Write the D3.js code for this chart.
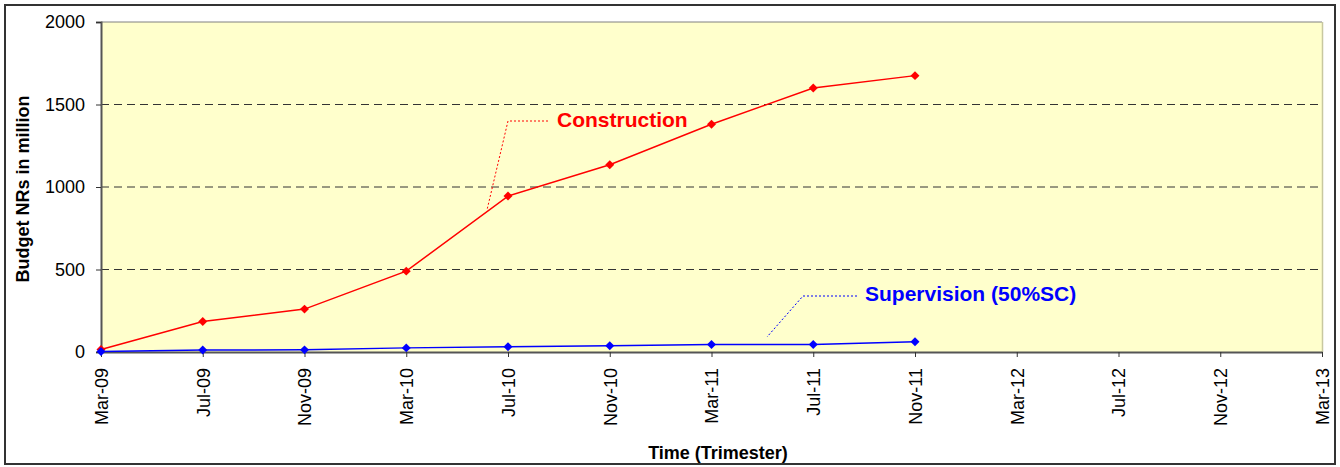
<!DOCTYPE html>
<html><head><meta charset="utf-8">
<script src="https://cdn.jsdelivr.net/npm/d3@7"></script>
<style>body{margin:0;background:#fff;} text{font-family:"Liberation Sans",Arial,sans-serif;}</style>
</head><body>
<svg id="c" width="1340" height="467"></svg>
<script>
const categories = ["Mar-09","Jul-09","Nov-09","Mar-10","Jul-10","Nov-10","Mar-11","Jul-11","Nov-11","Mar-12","Jul-12","Nov-12","Mar-13"];
const construction = [15,185,260,490,945,1135,1380,1600,1675];
const supervision = [3,12,13,25,32,38,46,46,62];
const yTicks = [0,500,1000,1500,2000];
const seriesNames = ["Construction","Supervision (50%SC)"];

const svg = d3.select("#c");
const m = {l:101, r:1322, t:22, b:352};
// outer frame
svg.append("rect").attr("x",5).attr("y",5).attr("width",1330).attr("height",459)
  .attr("fill","#fff").attr("stroke","#333").attr("stroke-width",2);

const x = d3.scalePoint().domain(categories).range([m.l,m.r]);
const y = d3.scaleLinear().domain([0,2000]).range([m.b,m.t]);

// plot area
svg.append("rect").attr("x",m.l).attr("y",m.t).attr("width",m.r-m.l).attr("height",m.b-m.t)
  .attr("fill","#FFFFCC").attr("stroke","none");
svg.append("line").attr("x1",m.l).attr("x2",m.r).attr("y1",m.t).attr("y2",m.t).attr("stroke","#808080").attr("stroke-width",1);
svg.append("line").attr("x1",m.r+0.5).attr("x2",m.r+0.5).attr("y1",m.t).attr("y2",m.b).attr("stroke","#c8c8a0").attr("stroke-width",1.5);

// gridlines
svg.append("g").selectAll("line").data(yTicks.filter(d=>d>0 && d<2000)).join("line")
  .attr("x1",m.l).attr("x2",m.r).attr("y1",d=>y(d)).attr("y2",d=>y(d))
  .attr("stroke","#333").attr("stroke-width",1).attr("stroke-dasharray","8,5");

// y axis
const ya = svg.append("g").attr("transform",`translate(${m.l},0)`)
  .call(d3.axisLeft(y).tickValues(yTicks).tickSize(5).tickPadding(11).tickFormat(d3.format("d")));
ya.select(".domain").attr("stroke","#555").attr("stroke-width",2);
ya.selectAll(".tick line").attr("stroke","#333");
ya.selectAll("text").attr("font-size",18).attr("fill","#000").style("font-family","Liberation Sans, Arial");

// x axis
const xa = svg.append("g").attr("transform",`translate(0,${m.b})`)
  .call(d3.axisBottom(x).tickSize(5).tickSizeOuter(0));
xa.select(".domain").attr("stroke","#555").attr("stroke-width",2);
xa.selectAll(".tick line").attr("stroke","#333");
xa.selectAll("text").attr("font-size",18).attr("fill","#000").style("font-family","Liberation Sans, Arial")
  .attr("transform","rotate(-90)").attr("text-anchor","end").attr("x",-16).attr("y",0).attr("dy","0.35em");

// lines
const line = d3.line().x((d,i)=>x(categories[i])).y(d=>y(d));
const series = [{v:construction,c:"#FF0000"},{v:supervision,c:"#0000FF"}];
series.forEach(s=>{
  svg.append("path").datum(s.v).attr("d",line).attr("fill","none").attr("stroke",s.c).attr("stroke-width",1.5);
  svg.append("g").selectAll("path").data(s.v).join("path")
    .attr("d",d3.symbol(d3.symbolSquare,40))
    .attr("transform",(d,i)=>`translate(${x(categories[i])},${y(d)}) rotate(45)`)
    .attr("fill",s.c);
});

// labels with leaders
svg.append("path").attr("d","M548,121 L508,121 L487,210").attr("fill","none").attr("stroke","#FF0000").attr("stroke-width",1).attr("stroke-dasharray","2,2");
svg.append("text").attr("x",557).attr("y",127).attr("font-size",21).attr("font-weight","bold").attr("fill","#FF0000").text(seriesNames[0]);
svg.append("path").attr("d","M857,296 L803,296 L767,337").attr("fill","none").attr("stroke","#0000FF").attr("stroke-width",1).attr("stroke-dasharray","2,2");
svg.append("text").attr("x",865).attr("y",301).attr("font-size",21).attr("font-weight","bold").attr("fill","#0000FF").text(seriesNames[1]);

// axis titles
svg.append("text").attr("x",718).attr("y",459).attr("text-anchor","middle").attr("font-size",18).attr("font-weight","bold").text("Time (Trimester)");
svg.append("text").attr("transform","translate(29,189) rotate(-90)").attr("text-anchor","middle").attr("font-size",18).attr("font-weight","bold").text("Budget NRs in million");
</script>
</body></html>
